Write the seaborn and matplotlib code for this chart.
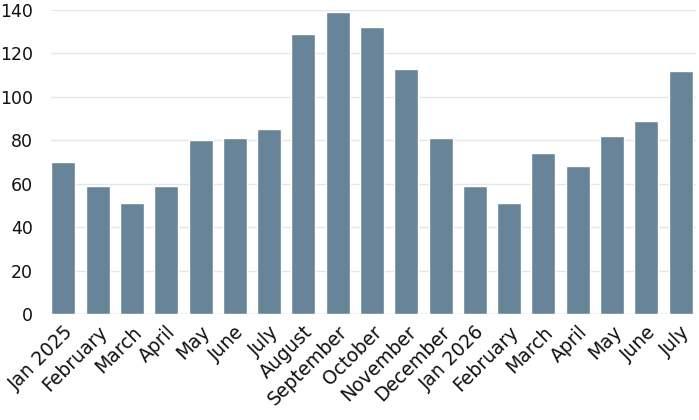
import matplotlib
matplotlib.use("Agg")
import matplotlib.pyplot as plt
import seaborn as sns
import pandas as pd

months = ["Jan 2025", "February", "March", "April", "May", "June", "July", "August",
          "September", "October", "November", "December", "Jan 2026", "February ", "March ",
          "April ", "May ", "June ", "July "]
values = [70, 59, 51, 59, 80, 81, 85, 129, 139, 132, 113, 81, 59, 51, 74, 68, 82, 89, 112]
yticks = [0, 20, 40, 60, 80, 100, 120, 140]

sns.set_theme(style="white")
plt.rcParams['font.family'] = ['DejaVu Sans']

df = pd.DataFrame({"month": months, "value": values})
fig = plt.figure(figsize=(6.99, 4.20), dpi=100)
ax = fig.add_axes([51 / 699, 1 - 314 / 420, 645 / 699, 304 / 420])
sns.barplot(data=df, x="month", y="value", color="#688499", saturation=1, width=0.7, ax=ax, zorder=2)

ax.set_ylim(0, 140)
ax.set_xlim(-0.36, len(months) - 0.55)
ax.set_yticks(yticks)
ax.set_yticklabels([str(t) for t in yticks], fontsize=12.5, color="#111111")
ax.grid(axis="y", color="#e6e6e6", linewidth=1, zorder=0)
ax.set_xlabel("")
ax.set_ylabel("")
ax.set_xticks(range(len(months)))
ax.set_xticklabels([m.strip() for m in months], rotation=45, ha="right", rotation_mode="anchor",
                   fontsize=13.5, color="#111111")
ax.tick_params(axis="both", length=0)
ax.tick_params(axis="y", pad=13)
ax.tick_params(axis="x", pad=6)
for s in ax.spines.values():
    s.set_visible(False)
ax.axhline(0, color="#dddddd", linewidth=1, zorder=1)

fig.savefig("out.png", dpi=100)
